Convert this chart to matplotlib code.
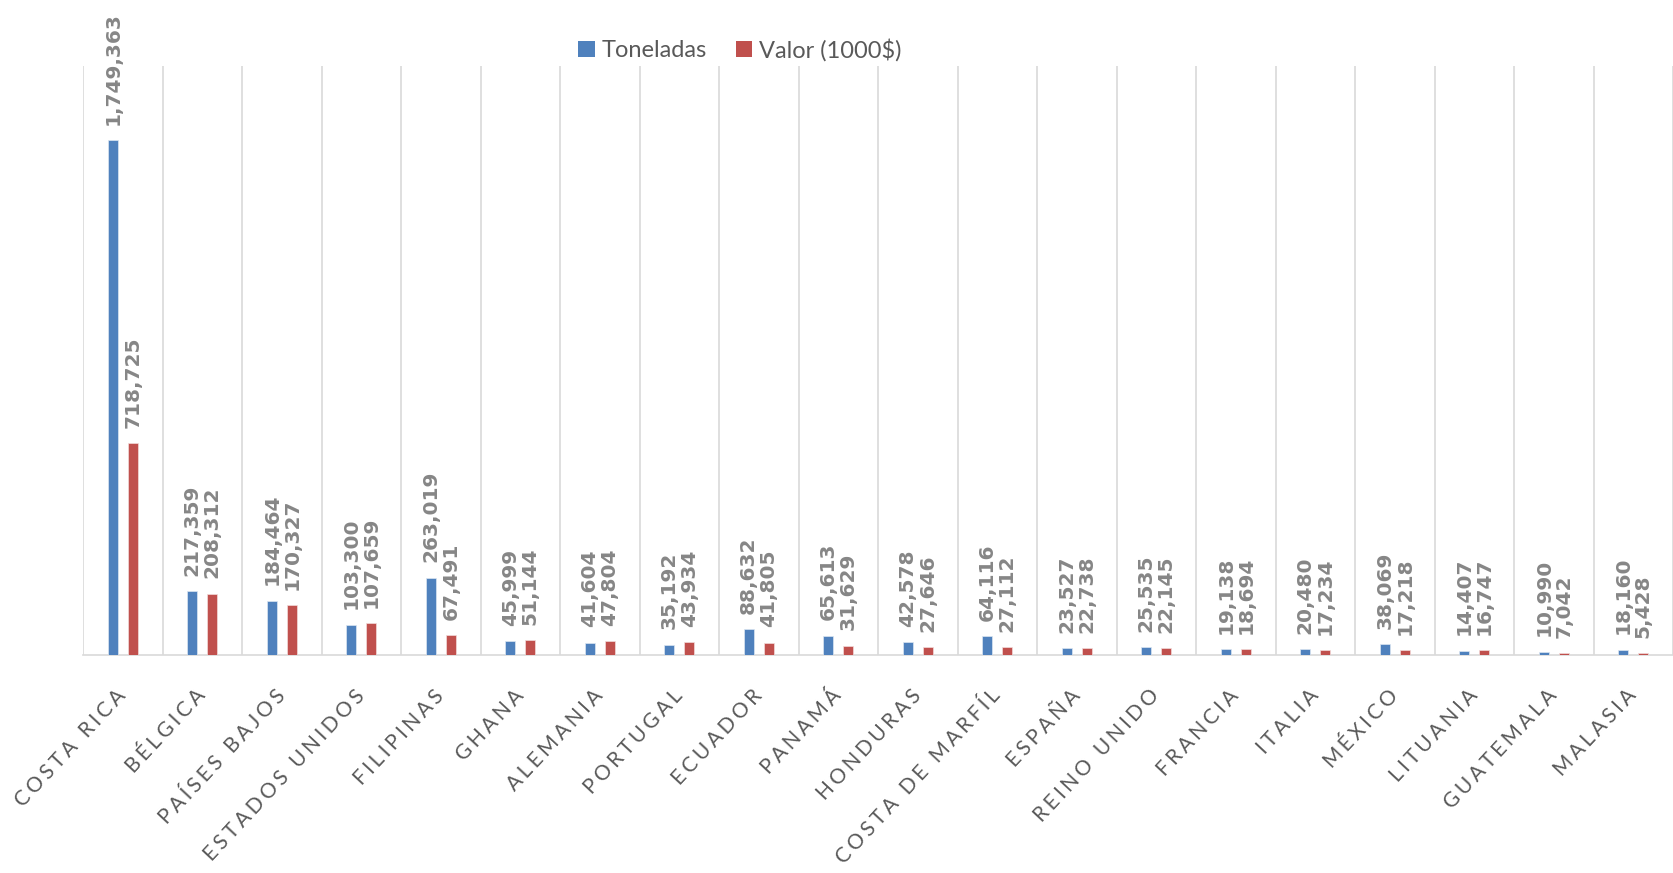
import numpy as np
import matplotlib
matplotlib.use("Agg")
import matplotlib.pyplot as plt
from matplotlib.patches import Patch

# Exportaciones por país de destino
paises = ["Costa Rica", "Bélgica", "Países Bajos", "Estados Unidos", "Filipinas",
          "Ghana", "Alemania", "Portugal", "Ecuador", "Panamá", "Honduras",
          "Costa de Marfíl", "España", "Reino Unido", "Francia", "Italia",
          "México", "Lituania", "Guatemala", "Malasia"]
toneladas = [1749363, 217359, 184464, 103300, 263019, 45999, 41604, 35192, 88632,
             65613, 42578, 64116, 23527, 25535, 19138, 20480, 38069, 14407, 10990, 18160]
valor = [718725, 208312, 170327, 107659, 67491, 51144, 47804, 43934, 41805,
         31629, 27646, 27112, 22738, 22145, 18694, 17234, 17218, 16747, 7042, 5428]
series_names = ["Toneladas", "Valor (1000$)"]

AZUL = "#4F81BD"
ROJO = "#C0504D"
GRIS_REJILLA = "#D9D9D9"
GRIS_TEXTO = "#595959"
GRIS_ETIQ = "#868686"

W, H = 1673, 873
fig = plt.figure(figsize=(W / 100, H / 100), dpi=100)
ax = fig.add_axes([83 / W, 1 - 655 / H, 1 - 83 / W, (655 - 66) / H])

x = np.arange(len(paises))
ancho = 0.13
desp = 0.126

b1 = ax.bar(x - desp, toneladas, ancho, color=AZUL, edgecolor="#DCE6F2", linewidth=0.5, zorder=3)
b2 = ax.bar(x + desp, valor, ancho, color=ROJO, edgecolor="#F2DCDB", linewidth=0.5, zorder=3)

for barras, datos in ((b1, toneladas), (b2, valor)):
    for rect, v in zip(barras, datos):
        ax.annotate(f"{v:,}", (rect.get_x() + rect.get_width() / 2, v),
                    xytext=(0, 11), textcoords="offset points",
                    rotation=90, ha="center", va="bottom",
                    fontsize=14.5, fontweight="bold", color=GRIS_ETIQ,
                    fontfamily="DejaVu Sans")

ax.set_xlim(-0.5, len(paises) - 0.5)
ax.set_ylim(0, 2.0e6)

# category separators
ax.set_xticks(np.arange(len(paises) + 1) - 0.5, minor=True)
ax.grid(which="minor", axis="x", color=GRIS_REJILLA, linewidth=1.2, zorder=0)
ax.tick_params(which="minor", length=0)

espaciado = "\u2006"
ax.set_xticks(x)
ax.set_xticklabels([espaciado.join(p.upper()) for p in paises],
                   rotation=47, ha="right", va="center", rotation_mode="anchor",
                   fontsize=15, color=GRIS_TEXTO, family=["Lato", "DejaVu Sans"])
ax.tick_params(axis="x", which="major", length=0, pad=27)
ax.set_yticks([])

for lado in ("top", "right", "left"):
    ax.spines[lado].set_visible(False)
ax.spines["bottom"].set_color(GRIS_REJILLA)
ax.spines["bottom"].set_linewidth(1.2)

manejadores = [Patch(facecolor=AZUL), Patch(facecolor=ROJO)]
fig.legend(manejadores, series_names, loc="center", bbox_to_anchor=(740 / W, 1 - 50 / H),
           ncol=2, frameon=False, handlelength=0.7, handleheight=0.7, handletextpad=0.3,
           columnspacing=1.2, prop={"family": ["Lato", "DejaVu Sans"], "size": 17},
           labelcolor=GRIS_TEXTO)

fig.savefig("out.png", dpi=100, facecolor="white")
